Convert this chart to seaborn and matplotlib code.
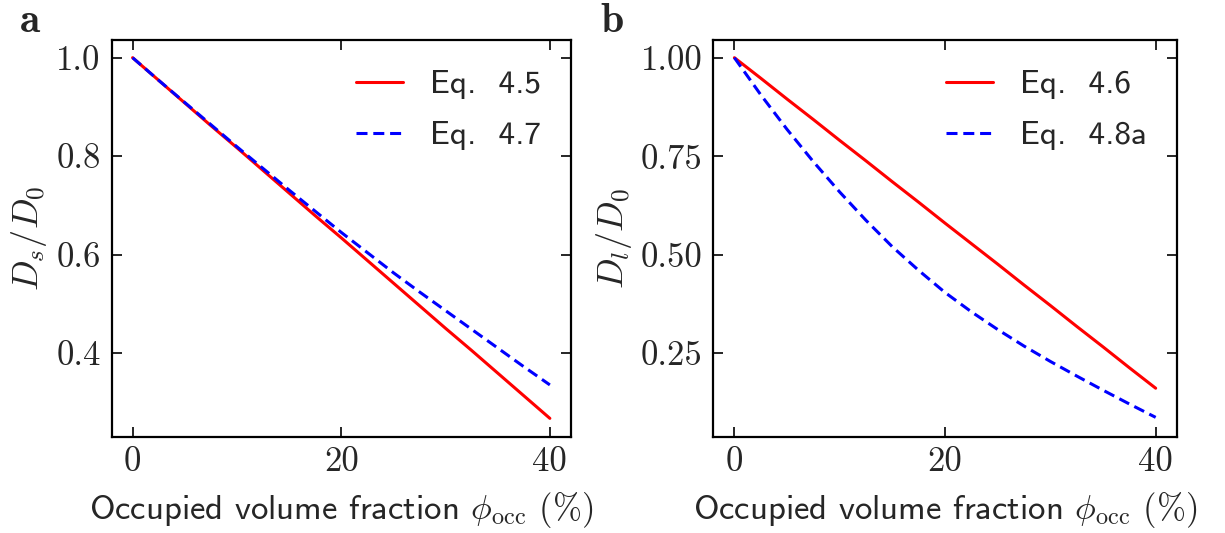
import numpy as np
import pandas as pd
import seaborn as sns
import matplotlib
matplotlib.use("Agg")
import matplotlib.pyplot as plt

# ---- data ----
phi = [0, 2.5, 5, 7.5, 10, 12.5, 15, 17.5, 20, 22.5, 25, 27.5, 30, 32.5, 35, 37.5, 40]
ds_eq45 = [1.000, 0.954, 0.908, 0.862, 0.817, 0.771, 0.725, 0.679, 0.634,
           0.588, 0.542, 0.496, 0.450, 0.405, 0.359, 0.313, 0.267]
ds_eq47 = [1.000, 0.954, 0.909, 0.864, 0.819, 0.775, 0.731, 0.688, 0.645,
           0.604, 0.563, 0.524, 0.486, 0.448, 0.410, 0.372, 0.335]
dl_eq46 = [1.000, 0.948, 0.895, 0.843, 0.790, 0.738, 0.685, 0.633, 0.580,
           0.528, 0.476, 0.423, 0.371, 0.318, 0.266, 0.213, 0.161]
dl_eq48a = [1.000, 0.906, 0.818, 0.736, 0.659, 0.587, 0.520, 0.460, 0.404,
            0.355, 0.310, 0.268, 0.229, 0.192, 0.156, 0.121, 0.087]

yticks_a = [0.4, 0.6, 0.8, 1.0]
yticks_b = [0.25, 0.50, 0.75, 1.00]
xticks = [0, 20, 40]

sns.set_theme(style="ticks")
plt.rcParams.update({
    "mathtext.fontset": "cm",
    "font.family": ["cmss10", "DejaVu Sans"],
    "axes.unicode_minus": False,
    "axes.linewidth": 1.6,
    "xtick.direction": "in",
    "ytick.direction": "in",
    "xtick.top": True,
    "ytick.right": True,
    "xtick.major.size": 7,
    "ytick.major.size": 7,
    "xtick.major.width": 1.4,
    "ytick.major.width": 1.4,
    "axes.edgecolor": "black",
})

fig = plt.figure(figsize=(12.25, 5.33), dpi=100)
ax1 = fig.add_axes([0.0912, 0.180, 0.3747, 0.745])
ax2 = fig.add_axes([0.5823, 0.180, 0.3783, 0.745])

df_a = pd.DataFrame({
    "phi": phi * 2,
    "D": ds_eq45 + ds_eq47,
    "series": ["Eq.  4.5"] * len(phi) + ["Eq.  4.7"] * len(phi),
})
df_b = pd.DataFrame({
    "phi": phi * 2,
    "D": dl_eq46 + dl_eq48a,
    "series": ["Eq.  4.6"] * len(phi) + ["Eq.  4.8a"] * len(phi),
})

FS = 25

def draw(ax, df, labels, yticks, yfmt, ylabel):
    sns.lineplot(data=df[df["series"] == labels[0]], x="phi", y="D", ax=ax,
                 color="#ff0000", lw=2.2, label=labels[0])
    sns.lineplot(data=df[df["series"] == labels[1]], x="phi", y="D", ax=ax,
                 color="#0000ff", lw=2.2, linestyle=(0, (3.6, 1.9)), label=labels[1])
    ax.set_xticks(xticks)
    ax.set_yticks(yticks)
    ax.set_xticklabels([str(v) for v in xticks], fontfamily="cmr10", fontsize=FS)
    ax.set_yticklabels([yfmt.format(v) for v in yticks], fontfamily="cmr10", fontsize=FS)
    ax.tick_params(axis="x", pad=7)
    ax.tick_params(axis="y", pad=8)
    ax.set_xlabel(r"Occupied volume fraction $\phi_{\rm occ}$ $(\%)$", fontsize=FS, labelpad=8)
    ax.set_ylabel(ylabel, fontsize=26, labelpad=5)
    ax.set_xlim(-2, 42)
    ax.legend(loc="upper right", frameon=False, fontsize=24,
              handlelength=1.4, handletextpad=0.8, labelspacing=0.65,
              borderaxespad=0.5)
    for s in ax.spines.values():
        s.set_linewidth(1.6)

draw(ax1, df_a, ["Eq.  4.5", "Eq.  4.7"], yticks_a, "{:.1f}", r"$D_s/D_0$")
draw(ax2, df_b, ["Eq.  4.6", "Eq.  4.8a"], yticks_b, "{:.2f}", r"$D_l/D_0$")
ax1.set_ylim(0.229, 1.036)
ax2.set_ylim(0.037, 1.045)

fig.text(0.0163, 0.9405, "a", fontfamily="cmb10", fontsize=30, ha="left", va="baseline")
fig.text(0.4898, 0.9405, "b", fontfamily="cmb10", fontsize=30, ha="left", va="baseline")

fig.savefig("out.png", dpi=100)
